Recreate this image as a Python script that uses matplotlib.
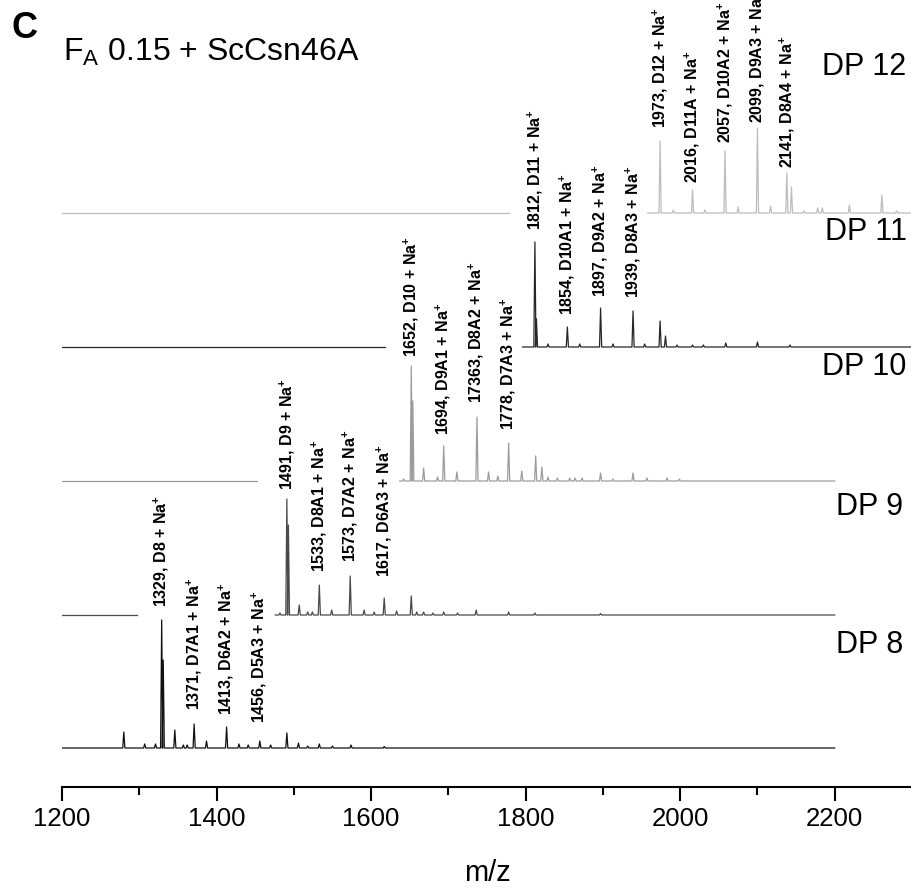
import matplotlib
matplotlib.use("Agg")
import matplotlib.pyplot as plt
from matplotlib.ticker import FixedLocator

plt.rcParams["font.family"] = ["Liberation Sans", "DejaVu Sans"]
plt.rcParams["mathtext.fontset"] = "custom"
plt.rcParams["mathtext.rm"] = "Liberation Sans"
plt.rcParams["mathtext.bf"] = "Liberation Sans:bold"

# --- data (m/z, relative intensity) ---
dp8_mz = [1280, 1307, 1321, 1329, 1331, 1346, 1357, 1362, 1371, 1387, 1413, 1429, 1441,
          1456, 1470, 1491, 1506, 1518, 1533, 1550, 1574, 1617]
dp8_int = [16, 4, 4, 128, 88, 18, 3, 3, 24, 7, 21, 4, 3, 7, 3, 15, 5, 2, 4, 2, 3, 1.5]

dp9_mz = [1482, 1491, 1493, 1507, 1518, 1524, 1533, 1549, 1573, 1591, 1604, 1617, 1633,
          1652, 1659, 1668, 1680, 1694, 1712, 1736, 1778, 1812, 1897]
dp9_int = [2, 116, 90, 10, 3, 3, 30, 5, 39, 5, 3, 17, 4, 19, 3, 3, 2, 3, 2, 5, 3, 2, 1.5]

dp10_mz = [1642, 1652, 1654, 1668, 1686, 1694, 1711, 1737, 1752, 1764, 1778, 1795, 1813,
           1821, 1829, 1841, 1857, 1864, 1873, 1897, 1913, 1939, 1957, 1983, 1999]
dp10_int = [2, 115, 80, 13, 4, 35, 9, 64, 9, 5, 38, 10, 25, 14, 4, 3, 3, 3, 3, 8, 2, 8,
            3, 3, 2]

dp11_mz = [1812, 1814, 1829, 1854, 1870, 1897, 1913, 1939, 1954, 1974, 1981, 1996, 2016,
           2030, 2059, 2100, 2142]
dp11_int = [105, 28, 3, 20, 3, 39, 3, 36, 3, 26, 11, 2, 2, 2, 4, 5, 2]

dp12_mz = [1974, 1991, 2016, 2032, 2058, 2075, 2100, 2117, 2138, 2144, 2160, 2178, 2184,
           2219, 2261, 2280]
dp12_int = [72, 3, 23, 3, 62, 6, 85, 7, 40, 26, 2, 5, 5, 8, 18, 2]

# flat lead-in segment and measured span of each trace
dp_left_end = [None, 1297, 1452, 1618, 1778]
dp_span = [(1200, 2200), (1476, 2200), (1637, 2200), (1796, 2300), (1958, 2300)]
dp_names = ["DP 8", "DP 9", "DP 10", "DP 11", "DP 12"]

# peak annotations: (m/z, text, label bottom above baseline)
dp8_labels = [(1329, "1329, D8 + Na", 141), (1371, "1371, D7A1 + Na", 38),
              (1413, "1413, D6A2 + Na", 33), (1456, "1456, D5A3 + Na", 25)]
dp9_labels = [(1491, "1491, D9 + Na", 125), (1533, "1533, D8A1 + Na", 43),
              (1573, "1573, D7A2 + Na", 53), (1617, "1617, D6A3 + Na", 38)]
dp10_labels = [(1652, "1652, D10 + Na", 124), (1694, "1694, D9A1 + Na", 46),
               (1736, "17363, D8A2 + Na", 78), (1778, "1778, D7A3 + Na", 51)]
dp11_labels = [(1812, "1812, D11 + Na", 117), (1854, "1854, D10A1 + Na", 32),
               (1897, "1897, D9A2 + Na", 50), (1939, "1939, D8A3 + Na", 49)]
dp12_labels = [(1974, "1973, D12 + Na", 85), (2016, "2016, D11A + Na", 30),
               (2058, "2057, D10A2 + Na", 70), (2100, "2099, D9A3 + Na", 90),
               (2139, "2141, D8A4 + Na", 45)]

# --- styling ---
offsets = [39, 172, 306, 440, 574]
colors = ["#111111", "#4a4a4a", "#9c9c9c", "#262626", "#bdbdbd"]
name_y = [142, 280, 420, 555, 720]
name_x = [2289, 2289, 2293, 2293, 2293]
half_w = 1.4

spectra = [(dp8_mz, dp8_int), (dp9_mz, dp9_int), (dp10_mz, dp10_int),
           (dp11_mz, dp11_int), (dp12_mz, dp12_int)]
labels = [dp8_labels, dp9_labels, dp10_labels, dp11_labels, dp12_labels]

fig = plt.figure(figsize=(9.12, 8.88), dpi=100)
ax = fig.add_axes([62 / 912, 101 / 888, 850 / 912, 787 / 888])
ax.set_xlim(1200, 2300)
ax.set_ylim(0, 787)

for i, (mz, inten) in enumerate(spectra):
    base = offsets[i]
    col = colors[i]
    if dp_left_end[i] is not None:
        ax.plot([1200, dp_left_end[i]], [base, base], color=col, lw=0.9)
    xs = [dp_span[i][0]]
    ys = [base]
    for m, h in sorted(zip(mz, inten)):
        xs += [m - half_w, m, m + half_w]
        ys += [base, base + h, base]
    xs.append(dp_span[i][1])
    ys.append(base)
    ax.plot(xs, ys, color=col, lw=0.9, clip_on=True)
    for m, txt, ly in labels[i]:
        ax.text(m, base + ly, txt + r"$^{\mathbf{+}}$", rotation=90, ha="center",
                va="bottom", fontsize=11.5, fontweight="bold", clip_on=False)
    ax.text(name_x[i], name_y[i], dp_names[i], ha="right", va="center",
            fontsize=22, clip_on=False)

for s in ["left", "right", "top"]:
    ax.spines[s].set_visible(False)
ax.spines["bottom"].set_linewidth(1.5)
ax.set_yticks([])
ax.xaxis.set_major_locator(FixedLocator(list(range(1200, 2201, 200))))
ax.xaxis.set_minor_locator(FixedLocator(list(range(1300, 2200, 200))))
ax.tick_params(axis="x", which="major", length=10, width=1.5, labelsize=18.5, pad=4.5)
ax.tick_params(axis="x", which="minor", length=6, width=1.5)

fig.text(487 / 912, 7 / 888, "m/z", ha="center", va="baseline", fontsize=21)
fig.text(12 / 912, (888 - 38) / 888, "C", ha="left", va="baseline", fontsize=26,
         fontweight="bold")
fig.text(63 / 912, (888 - 61) / 888, r"F$_{\mathrm{A}}$ 0.15 + ScCsn46A", ha="left",
         va="baseline", fontsize=23)

fig.savefig("out.png", dpi=100)
